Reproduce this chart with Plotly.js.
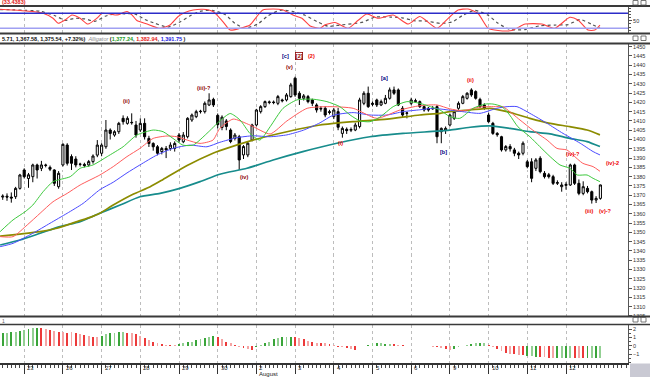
<!DOCTYPE html>
<html><head><meta charset="utf-8">
<script src="https://cdn.plot.ly/plotly-3.0.1.min.js"></script>
<style>html,body{margin:0;padding:0;background:#fff;overflow:hidden}#chart{width:650px;height:377px}</style>
</head><body><div id="chart"></div>
<script>
// ---------- DATA ----------
const dayLabels = ["23","26","27","28","29","30","2","3","4","5","6","9","10","11","12"];
const dayStart  = [5,14,23,32,41,50,59,68,77,86,95,104,113,122,131];
const monthLabel = "August";
const monthAt = 59;

const open = [1369.0,1369.5,1369.0,1369.2,1373.7,1383.6,1379.0,1380.0,1386.3,1384.5,
1386.0,1385.0,1383.6,1374.6,1386.3,1397.0,1390.8,1389.5,1386.6,1386.6,
1386.3,1388.1,1391.6,1392.6,1396.1,1405.1,1402.4,1404.2,1411.4,1408.7,
1409.0,1407.8,1405.1,1408.7,1400.6,1397.9,1396.1,1393.5,1395.2,1395.2,
1395.2,1402.4,1398.8,1401.5,1410.5,1412.3,1415.0,1415.0,1418.6,1421.6,
1413.0,1406.5,1410.0,1405.1,1400.6,1401.5,1391.7,1391.7,1399.7,1407.8,
1415.0,1417.7,1419.9,1420.2,1419.5,1421.3,1421.3,1423.1,1433.0,1424.9,
1422.2,1423.1,1421.3,1418.6,1416.8,1416.8,1415.0,1412.3,1415.0,1403.3,
1405.5,1405.0,1405.1,1407.0,1419.5,1424.9,1419.5,1421.3,1418.6,1419.5,
1422.2,1426.7,1426.7,1416.8,1414.1,1419.5,1420.4,1420.4,1417.7,1416.8,
1416.5,1417.7,1404.2,1405.0,1407.8,1411.4,1416.8,1419.5,1422.2,1426.7,
1425.8,1421.6,1418.6,1413.2,1408.7,1403.3,1401.5,1394.4,1396.2,1394.4,
1392.6,1392.6,1388.0,1388.0,1384.5,1389.9,1381.8,1381.0,1380.0,1376.4,
1374.6,1375.3,1375.5,1386.3,1376.4,1371.0,1373.7,1371.9,1367.4,1368.3];
const high = [1370.5,1371.0,1371.5,1374.5,1381.5,1384.5,1382.0,1387.0,1387.0,1388.5,
1387.0,1386.0,1384.0,1383.0,1398.0,1398.0,1392.0,1391.0,1387.5,1387.5,
1389.0,1392.0,1399.7,1398.0,1410.5,1406.0,1405.0,1409.5,1413.0,1412.5,
1414.1,1410.0,1411.4,1411.4,1402.0,1398.5,1397.0,1396.0,1396.5,1398.5,
1399.0,1403.5,1404.0,1412.0,1414.0,1416.0,1416.0,1420.5,1424.9,1422.5,
1414.0,1413.0,1411.0,1406.0,1403.5,1402.5,1397.0,1399.0,1408.5,1416.5,
1418.5,1421.0,1421.0,1421.0,1424.0,1422.0,1425.0,1430.5,1433.8,1426.0,
1424.5,1424.0,1422.0,1419.5,1418.0,1418.0,1416.0,1417.0,1417.0,1407.0,
1406.5,1406.5,1409.0,1422.5,1426.0,1428.5,1420.5,1422.0,1421.5,1424.0,
1428.0,1428.5,1427.5,1418.0,1415.0,1422.5,1422.0,1421.0,1418.5,1417.5,
1418.0,1418.5,1406.5,1407.0,1414.0,1416.0,1420.5,1424.0,1425.5,1427.6,
1426.5,1422.5,1419.5,1414.5,1409.5,1404.0,1402.0,1397.0,1397.5,1395.5,
1393.5,1399.0,1389.0,1389.9,1390.0,1391.0,1383.0,1382.0,1381.0,1378.0,
1377.0,1377.0,1387.0,1387.0,1378.5,1377.5,1375.0,1372.5,1369.5,1375.71];
const low = [1367.5,1367.0,1366.0,1368.0,1373.0,1379.0,1374.0,1377.0,1379.0,1383.0,
1385.0,1383.0,1375.0,1373.5,1385.5,1386.0,1383.6,1385.0,1385.5,1385.0,
1385.4,1387.0,1390.5,1391.0,1395.0,1400.0,1401.5,1403.0,1408.0,1408.0,
1408.0,1401.0,1404.0,1400.0,1396.0,1394.0,1391.5,1392.0,1390.0,1394.0,
1393.5,1398.5,1398.0,1400.6,1409.5,1411.5,1414.0,1414.0,1418.0,1417.5,
1406.0,1405.0,1405.0,1398.0,1399.5,1383.6,1389.5,1390.5,1399.0,1407.0,
1414.0,1417.0,1419.0,1419.0,1418.5,1420.0,1420.5,1422.5,1423.0,1418.6,
1421.0,1419.5,1418.0,1414.5,1415.0,1412.0,1413.5,1411.0,1405.0,1401.0,
1403.0,1404.0,1404.5,1406.0,1418.5,1417.0,1418.0,1417.5,1418.0,1419.0,
1421.5,1424.0,1418.0,1412.0,1411.4,1418.5,1420.0,1417.0,1415.0,1415.0,
1416.0,1398.0,1398.0,1403.0,1407.0,1410.5,1416.0,1419.0,1421.5,1423.0,
1421.5,1417.0,1416.0,1409.0,1402.5,1401.5,1393.5,1393.5,1393.5,1391.0,
1389.5,1391.5,1384.5,1377.0,1383.0,1381.8,1379.0,1379.0,1375.5,1375.5,
1371.9,1373.0,1375.0,1375.5,1370.0,1370.0,1371.0,1365.5,1365.8,1367.58];
const close = [1369.5,1369.0,1368.5,1373.7,1380.9,1380.0,1381.0,1386.3,1383.6,1386.3,
1386.2,1384.0,1376.4,1381.8,1397.4,1387.2,1387.2,1386.3,1386.7,1386.0,
1388.1,1391.1,1397.0,1397.0,1405.1,1403.3,1404.2,1408.7,1409.6,1411.4,
1409.2,1402.4,1408.7,1401.5,1397.9,1396.1,1392.6,1395.2,1394.4,1397.0,
1397.9,1399.7,1402.4,1411.4,1413.2,1415.0,1415.2,1419.5,1421.3,1418.6,
1408.0,1412.0,1407.0,1398.9,1402.4,1389.0,1396.2,1398.0,1407.8,1415.9,
1417.7,1420.4,1420.2,1419.9,1423.1,1420.9,1424.0,1429.4,1424.0,1422.2,
1423.5,1420.4,1419.5,1415.9,1416.5,1413.2,1414.6,1415.9,1406.6,1406.0,
1404.8,1405.4,1407.8,1421.3,1424.9,1417.7,1419.0,1418.6,1420.4,1422.2,
1426.7,1424.9,1418.6,1413.2,1414.3,1421.3,1420.9,1417.7,1415.9,1415.9,
1416.8,1401.5,1406.0,1406.0,1413.2,1415.0,1419.5,1423.1,1424.9,1424.0,
1422.2,1417.7,1416.8,1409.6,1403.3,1402.6,1394.4,1396.2,1395.0,1392.6,
1391.7,1398.0,1385.4,1379.1,1389.0,1382.7,1380.0,1380.0,1376.4,1376.8,
1375.5,1375.8,1386.3,1376.4,1371.0,1374.6,1371.9,1367.4,1368.3,1375.54];

const greenX = [-0.6,2.4,5.2,7.0,9.4,11.7,15.7,18.0,21.0,24.3,28.0,31.2,35.0,37.3,39.6,41.9,44.3,47.5,50.5,52.9,55.2,57.5,59.8,62.2,65.2,68.4,72.2,75.4,78.4,80.8,83.1,85.4,87.7,90.8,94.0,97.0,100.1,101.7,104.0,106.3,109.4,112.2,114.0,116.1,117.9,119.8,122.6,124.9,127.3,129.6,131.9,133.6,135.9,137.3,138.9];
const greenY = [1350.4,1356.7,1361.1,1364.7,1371.9,1377.3,1380.0,1384.5,1386.3,1390.8,1396.1,1402.4,1405.1,1404.2,1400.6,1397.0,1397.0,1403.3,1410.0,1414.0,1410.5,1403.3,1399.7,1406.9,1416.8,1421.3,1421.7,1420.4,1417.7,1413.2,1410.0,1409.6,1412.0,1417.7,1420.4,1419.5,1417.2,1415.9,1412.3,1411.4,1416.8,1419.1,1419.1,1417.7,1413.2,1406.9,1401.5,1396.2,1390.8,1386.3,1384.5,1380.9,1380.9,1379.1,1377.3];
const redX = [-0.6,2.4,5.7,8.7,11.7,15.0,18.0,22.6,25.7,28.9,31.9,35.0,38.2,40.5,42.9,45.9,48.9,50.5,53.6,57.5,62.2,66.1,70.8,76.1,81.5,87.0,92.4,97.0,101.0,104.0,107.0,111.0,114.9,116.3,120.3,123.3,126.6,128.9,131.2,132.6,134.9,137.3,138.9];
const redY = [1347.7,1347.7,1354.0,1360.3,1366.5,1371.0,1375.5,1380.9,1385.4,1390.8,1395.2,1400.6,1401.9,1401.5,1399.7,1397.9,1399.7,1406.0,1411.0,1407.8,1403.0,1410.0,1416.8,1417.7,1416.8,1411.4,1415.9,1418.2,1418.6,1416.5,1415.5,1417.5,1417.7,1417.7,1410.5,1405.0,1399.7,1395.2,1394.4,1391.7,1387.2,1385.4,1382.9];
const blueX = [-0.6,2.4,7.0,11.0,15.0,18.7,22.6,25.7,28.9,31.9,35.9,39.6,43.6,47.5,50.5,54.5,58.2,62.2,66.1,69.9,73.8,76.8,81.5,85.4,89.4,93.1,97.0,100.1,103.3,107.0,111.0,114.9,117.3,119.6,122.6,126.6,130.3,134.3,137.3,138.9];
const blueY = [1342.3,1344.1,1349.5,1354.9,1360.3,1365.6,1373.0,1377.0,1382.0,1386.3,1391.7,1395.2,1397.0,1396.1,1398.5,1401.0,1402.0,1401.5,1402.5,1405.0,1409.0,1413.0,1414.5,1413.2,1413.2,1415.0,1416.0,1416.8,1416.0,1415.0,1414.1,1416.8,1417.7,1417.7,1414.1,1408.7,1403.3,1398.0,1393.5,1391.7];
const oliveX = [-0.6,4.0,8.7,12.6,17.3,20.8,22.6,25.7,30.3,34.3,37.3,42.9,48.9,50.5,58.2,66.1,73.8,81.5,89.4,97.0,101.7,104.0,108.7,113.3,117.3,122.6,127.3,131.9,135.9,138.9];
const oliveY = [1348.0,1349.1,1350.4,1352.2,1355.8,1358.5,1360.3,1364.7,1370.5,1374.6,1378.5,1386.0,1392.6,1394.0,1399.7,1404.2,1407.8,1409.6,1411.0,1413.2,1414.1,1415.0,1415.9,1416.8,1415.0,1411.4,1408.7,1406.9,1405.1,1402.5];
const tealX = [-0.6,4.0,8.7,13.3,18.0,22.6,27.3,31.9,36.6,41.2,45.9,50.5,56.8,62.9,69.8,77.7,85.4,93.1,101.0,104.0,108.7,113.3,118.0,122.6,127.3,131.9,135.9,138.9];
const tealY = [1343.2,1345.9,1349.5,1353.1,1355.8,1360.3,1364.7,1369.2,1371.0,1373.7,1377.3,1381.3,1384.5,1389.0,1393.5,1398.0,1401.5,1403.3,1404.5,1405.1,1406.6,1407.3,1406.0,1404.2,1403.0,1400.6,1398.9,1396.2];

const stochX = [-0.6,7.0,9.4,11.7,12.9,14.5,16.1,18.0,19.8,21.9,23.1,25.0,26.6,28.9,30.1,31.2,33.6,36.6,38.9,40.8,42.4,44.3,46.6,48.9,51.2,52.9,55.2,57.5,59.1,60.5,62.9,65.2,67.5,69.6,71.5,73.8,74.9,77.3,80.3,82.6,84.7,87.3,90.8,94.3,97.0,101.0,103.6,105.9,108.2,110.5,112.9,115.2,118.4,121.5,125.4,128.4,131.9,133.8,136.1,137.7,138.9];
const stochK = [96,87,80,60,40,53,73,60,37,60,80,77,73,87,73,51,37,20,33,67,83,93,96,87,47,13,20,33,67,93,97,93,73,60,29,20,33,43,20,51,77,60,73,37,67,20,60,93,97,80,20,11,11,37,37,20,64,53,13,13,33];
const stochDX = [-0.6,8.7,12.2,14.5,16.8,19.1,21.5,23.8,26.1,28.4,30.8,33.1,35.4,38.4,41.2,43.6,45.9,48.7,51.7,54.0,56.3,59.4,61.7,64.5,67.3,70.3,73.3,75.7,78.4,81.2,83.8,86.6,90.1,92.9,95.9,98.2,101.7,104.5,107.0,109.8,112.9,115.2,118.0,121.5,124.9,128.4,131.5,134.3,137.1,138.9];
const stochD = [95,88,70,52,60,58,48,68,78,78,77,55,40,25,45,70,88,92,75,40,20,38,70,92,88,72,45,28,33,38,45,65,65,62,50,50,40,45,72,92,72,40,15,15,30,33,35,55,35,20];
const stochLevels = [80, 20];

const hist = [1.48,1.56,1.6,1.68,1.76,1.88,1.96,2.08,2.08,2.08,
2.0,1.88,1.8,1.68,1.6,1.56,1.6,1.48,1.36,1.28,
1.16,1.08,1.08,1.2,1.36,1.48,1.56,1.64,1.68,1.56,
1.48,1.4,1.16,0.88,0.68,0.48,0.28,0.2,0.08,0.04,
0.04,0.16,0.28,0.4,0.48,0.68,0.76,0.88,1.08,1.16,
1.0,0.76,0.48,0.28,0.04,-0.12,-0.32,-0.44,-0.52,-0.2,
0.04,0.28,0.48,0.76,0.88,1.0,1.0,1.08,1.0,0.88,
0.76,0.6,0.48,0.36,0.28,0.28,0.16,0.08,-0.12,-0.2,
-0.32,-0.4,-0.48,-0.04,0.0,0.08,0.28,0.32,0.28,0.24,
0.2,0.16,0.08,0.04,0.02,0.02,0.02,0.02,0.0,-0.04,
-0.12,-0.2,-0.32,-0.44,-0.52,-0.4,-0.2,-0.04,0.08,0.2,
0.32,0.36,0.28,0.12,-0.12,-0.4,-0.6,-0.84,-0.96,-1.04,
-1.12,-1.16,-1.24,-1.28,-1.32,-1.36,-1.4,-1.44,-1.46,-1.48,
-1.5,-1.5,-1.5,-1.48,-1.48,-1.48,-1.46,-1.46,-1.46,-1.46];
const histTone = ("GgGgGgGgG"+"RrRrRrRrRrRrRr"+"GgGgGg"+"RrRrRrRrRrRr"+"GgGgGgGgG"+"RrRrRrRrR"+
  "GgGgGgGgG"+"RrRrRrRrRrRrRrR"+"GgGgGgGg"+"RrRrRrRrRrRrRr"+"GgGgGgGg"+"RrRrRrRrR"+
  "GgG"+"RrRr"+"GgGg"+"RrR"+"GgGg").split("");

const waveText = ["(ii)","(iii)-?","(iv)","(v)","[c]","[2]","(2)","(i)","[a]","[b]","(ii)","(iv)-?","(iv)-2","(iii)","(v)-?"];
const waveBar  = [28.9,46.8,56.1,66.8,65.7,68.9,71.9,78.6,88.7,102.6,108.8,132.6,141.9,136.3,140.2];
const wavePrice= [1420.9,1427.9,1380.0,1439.2,1445.0,1445.0,1445.0,1398.0,1433.3,1393.1,1432.1,1392.1,1387.5,1361.5,1361.5];
const waveColor= ["#8b0000","#8b0000","#8b0000","#8b0000","#000080","#8b0000","#ee0000","#ee0000","#000080","#000080","#ee0000","#ee0000","#ee0000","#ee0000","#ee0000"];

// ---------- BUILD ----------
const H = 377, PW = 628;
const py = v => 1 - v / H;   // pixel row -> paper y
const px = v => v / PW;      // pixel column -> paper x
const barIdx = open.map((_, i) => i);
const toneColor = {G:"#3aa53a", g:"#93d093", R:"#ec3a3a", r:"#f5a5a5"};
const FONT = "Liberation Sans, Arial, sans-serif";

const lineTrace = (x, y, color, w) => ({type:"scatter", mode:"lines", x, y, xaxis:"x", yaxis:"y",
  line:{color, width:w, shape:"spline", smoothing:0.6}, hoverinfo:"skip"});

const data = [
  {type:"scatter", mode:"lines", x:stochDX, y:stochD, xaxis:"x", yaxis:"y2",
   line:{color:"#555", width:1.2, dash:"dot", shape:"spline", smoothing:0.6}},
  {type:"scatter", mode:"lines", x:stochX, y:stochK, xaxis:"x", yaxis:"y2",
   line:{color:"#ff4040", width:1.1, shape:"spline", smoothing:0.6}},
  {type:"candlestick", x:barIdx, open, high, low, close, xaxis:"x", yaxis:"y",
   increasing:{line:{color:"#000", width:1}, fillcolor:"#ffffff"},
   decreasing:{line:{color:"#000", width:1}, fillcolor:"#000000"}, whiskerwidth:0},
  lineTrace(tealX, tealY, "#178c8c", 1.7),
  lineTrace(oliveX, oliveY, "#8c8c00", 1.7),
  lineTrace(blueX, blueY, "#4a4aff", 1),
  lineTrace(redX, redY, "#ff5c5c", 1),
  lineTrace(greenX, greenY, "#3cc83c", 1),
  {type:"bar", x:barIdx, y:hist, xaxis:"x", yaxis:"y3", width:0.45,
   marker:{color:histTone.map(t => toneColor[t]), line:{width:0}}}
];

const annotations = [];
dayLabels.forEach((t, k) => annotations.push({x:dayStart[k], xref:"x", y:py(367.5), yref:"paper",
  text:t, showarrow:false, xanchor:"left", yanchor:"middle", xshift:1, font:{size:6, color:"#222", family:FONT}}));
annotations.push({x:monthAt, xref:"x", y:py(374), yref:"paper", text:monthLabel, showarrow:false,
  xanchor:"left", yanchor:"middle", xshift:1, font:{size:6, color:"#222", family:FONT}});
waveText.forEach((t, k) => annotations.push({x:waveBar[k], xref:"x", y:wavePrice[k], yref:"y", text:"<b>"+t+"</b>",
  showarrow:false, xanchor:"center", yanchor:"middle", font:{size:5.5, color:waveColor[k], family:FONT},
  bordercolor: t === "[2]" ? "#8b0000" : "rgba(0,0,0,0)", borderwidth: t === "[2]" ? 0.8 : 0, borderpad:0}));
annotations.push({x:0, xref:"paper", y:py(38.6), yref:"paper", xanchor:"left", yanchor:"middle", showarrow:false,
  text:'<b>5.71, 1,367.58, 1,375.54, +7.32%)</b>  <i><span style="color:#8a8a8a">Alligator</span></i> <b>(<span style="color:#1c9c1c">1,377.24</span>, <span style="color:#e52020">1,382.94</span>, <span style="color:#2020e0">1,391.75</span> )</b>',
  font:{size:5.5, color:"#111", family:FONT}});
annotations.push({x:0, xref:"paper", y:py(2), yref:"paper", xanchor:"left", yanchor:"middle", showarrow:false,
  text:"<b>(33.4383)</b>", font:{size:5.5, color:"#e02020", family:FONT}});
annotations.push({x:0, xref:"paper", y:py(320.5), yref:"paper", xanchor:"left", yanchor:"middle", showarrow:false,
  text:"1", font:{size:5, color:"#666", family:FONT}});

const shapes = [];
[[6,2],[33.5,2],[43.5,2],[316.5,2],[324.5,1.5]].forEach(([r,w]) => shapes.push({type:"line", xref:"paper", yref:"paper",
  x0:0, x1:px(650), y0:py(r), y1:py(r), line:{color:"#3a3a3a", width:w}}));
stochLevels.forEach((lv, k) => shapes.push({type:"line", xref:"paper", yref:"y2", x0:0, x1:1, y0:lv, y1:lv,
  line:{color: k === 0 ? "#2c2cc8" : "#a0a0f2", width:1.5}}));
shapes.push({type:"rect", xref:"paper", yref:"paper", x0:px(630), x1:px(650), y0:0, y1:py(363.5),
  fillcolor:"#c9c9d3", line:{width:0}});
[0.5, 36, 317.5].forEach(r => { [633, 641].forEach(c => shapes.push({type:"rect", xref:"paper", yref:"paper",
  x0:px(c), x1:px(c+5), y0:py(r+4.5), y1:py(r), line:{color:"#555", width:0.8}, fillcolor:"#fff"})); });

const yCommon = {side:"right", anchor:"x", showgrid:false, zeroline:false, showline:true, linecolor:"#555", linewidth:1,
  ticks:"outside", ticklen:3, tickcolor:"#555", tickfont:{size:5.5, color:"#333", family:FONT}, fixedrange:true};

const layout = {
  width:650, height:377, margin:{l:0, r:22, t:0, b:0, pad:0},
  paper_bgcolor:"#fff", plot_bgcolor:"#fff", showlegend:false, bargap:0,
  xaxis:{range:[-0.63, 145.42], anchor:"y3", tickmode:"array", tickvals:dayStart, ticks:"outside", ticklen:9,
    tickcolor:"#333", showticklabels:false, showgrid:true, gridcolor:"#bdbdbd", griddash:"dot", gridwidth:1,
    zeroline:false, showline:true, linecolor:"#333", linewidth:2, rangeslider:{visible:false},
    minor:{tickmode:"linear", tick0:0, dtick:1, ticks:"outside", ticklen:3, tickcolor:"#444", showgrid:false}},
  yaxis:Object.assign({}, yCommon, {domain:[py(316.5), py(43.5)], range:[1304.7, 1451.7],
    tickmode:"linear", tick0:1310, dtick:5}),
  yaxis2:Object.assign({}, yCommon, {domain:[py(33.5), py(6)], range:[-0.8, 109.2], tickmode:"array", tickvals:[50],
    minor:{tickmode:"linear", tick0:0, dtick:12.5, ticks:"outside", ticklen:2, tickcolor:"#555"}}),
  yaxis3:Object.assign({}, yCommon, {domain:[py(362.5), py(324.5)], range:[-2.02, 2.54], tickmode:"array",
    tickvals:[-1,0,1,2], minor:{tickmode:"linear", tick0:0, dtick:0.5, ticks:"outside", ticklen:2, tickcolor:"#555"}}),
  annotations, shapes
};

Plotly.newPlot("chart", data, layout, {staticPlot:true, displayModeBar:false});
</script>
</body></html>
